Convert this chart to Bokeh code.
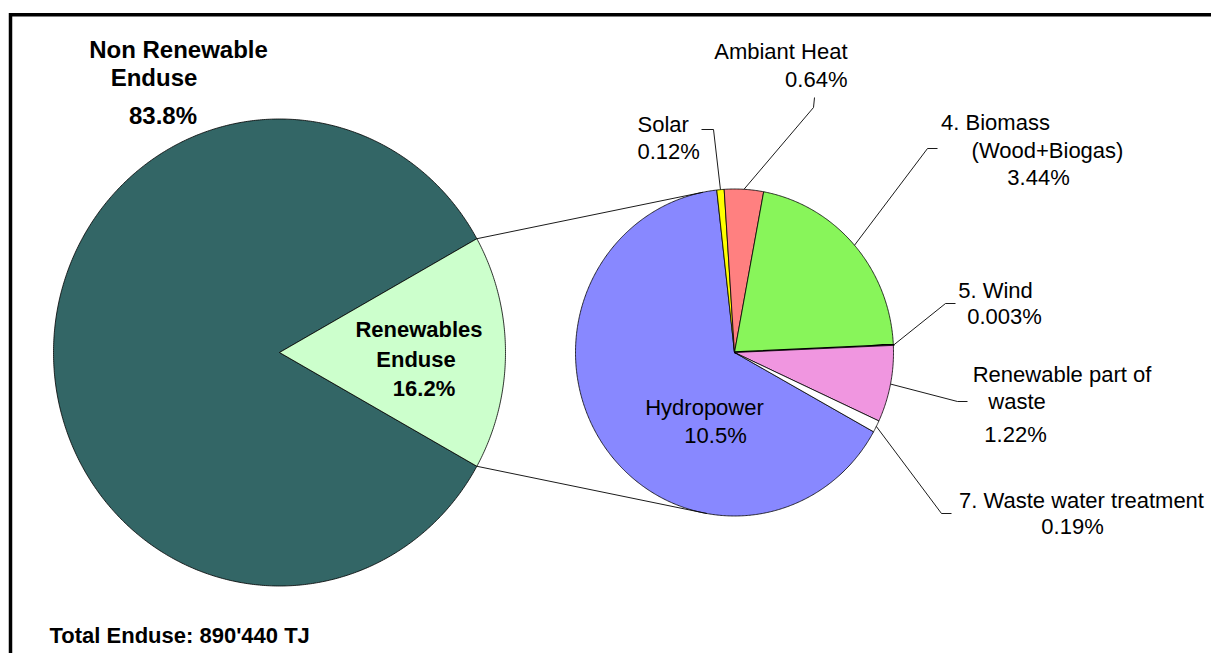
import numpy as np
from bokeh.plotting import figure
from bokeh.models import Range1d, ColumnDataSource
from bokeh.embed import file_html
from bokeh.resources import INLINE
from bokeh.core.properties import value

# ---------------- data ----------------
main_labels = ["Non Renewable", "Renewables"]
main_values = [83.8, 16.2]
main_colors = ["#336666", "#CCFFCC"]

sub_labels = ["Hydropower", "Solar", "Ambiant Heat", "4. Biomass", "5. Wind",
              "Renewable part of waste", "7. Waste water treatment"]
sub_values = [10.5, 0.12, 0.64, 3.44, 0.003, 1.22, 0.19]
sub_colors = ["#8888FF", "#FFFF00", "#FF8080", "#88F55A", "#000000", "#F096E0", "#FFFFFF"]

total_text = "Total Enduse:  890'440 TJ"

# ---------------- layout (screen px) ----------------
W, H = 1211, 653
FONT = "Liberation Sans"
TDY = -8  # text baseline correction

def Y(y):
    return -y

def ell_wedge(cx, cy, rx, ry, a0, a1):
    n = max(3, int(abs(a1 - a0) * 2) + 2)
    t = np.radians(np.linspace(a0, a1, n))
    xs = [cx] + list(cx + rx * np.cos(t)) + [cx]
    ys = [Y(cy)] + list(Y(cy) + ry * np.sin(t)) + [Y(cy)]
    return xs, ys

def ell_pt(cx, cy, rx, ry, a):
    t = np.radians(a)
    return cx + rx * np.cos(t), Y(cy) + ry * np.sin(t)

p = figure(width=W, height=H, x_range=Range1d(0, W), y_range=Range1d(-H, 0),
           output_backend="svg", toolbar_location=None, min_border=0)
p.axis.visible = False
p.grid.visible = False
p.outline_line_color = None
p.background_fill_color = "white"

# ---- big pie ----
BCX, BCY, BRX, BRY = 279, 352, 226, 233.5
tot = sum(main_values)
ren_half = main_values[1] / tot * 180.0
big_angles = [(ren_half, 360 - ren_half), (-ren_half, ren_half)]
bxs, bys = [], []
for (a0, a1) in big_angles:
    xs, ys = ell_wedge(BCX, BCY, BRX, BRY, a0, a1)
    bxs.append(xs); bys.append(ys)
p.patches(bxs, bys, fill_color=main_colors, line_color="black", line_width=0.8)

# ---- small pie (clockwise from start) ----
SCX, SCY, SRX, SRY = 734, 352, 159, 163.5
start = -29.0
stot = sum(sub_values)
sxs, sys_, mids = [], [], []
a = start
for v in sub_values:
    span = v / stot * 360.0
    a_end = a - span
    xs, ys = ell_wedge(SCX, SCY, SRX, SRY, a_end, a)
    sxs.append(xs); sys_.append(ys)
    mids.append((a + a_end) / 2.0)
    a = a_end
lw = [0.8, 0.8, 0.8, 0.8, 2.5, 0.8, 0.8]
p.patches(sxs, sys_, fill_color=sub_colors, line_color="black", line_width=lw)

# ---- connector lines between pies ----
t0 = ell_pt(BCX, BCY, BRX, BRY, ren_half)
t1 = ell_pt(SCX, SCY, SRX, SRY, 101.5)
b0 = ell_pt(BCX, BCY, BRX, BRY, -ren_half)
b1 = ell_pt(SCX, SCY, SRX, SRY, -100)
p.multi_line([[t0[0], t1[0]], [b0[0], b1[0]]], [[t0[1], t1[1]], [b0[1], b1[1]]],
             line_color="black", line_width=0.9)

# ---- leader lines (slice index -> elbow, end) ----
leaders = {1: [(713, 129), (701, 129)],
           2: [(813, 107), (814, 97)],
           3: [(927, 148), (937, 148)],
           4: [(945, 303), (955, 303)],
           5: [(957, 401), (967, 401)],
           6: [(941, 513), (951, 513)]}
lxs, lys = [], []
for i, pts in leaders.items():
    sx, sy = ell_pt(SCX, SCY, SRX, SRY, mids[i])
    lxs.append([sx] + [q[0] for q in pts])
    lys.append([sy] + [Y(q[1]) for q in pts])
p.multi_line(lxs, lys, line_color="black", line_width=0.9)

# ---- frame ----
p.line([10, 10, 1230], [Y(700), Y(14.2), Y(14.2)], line_color="black", line_width=3.5,
       line_join="miter")

# ---- texts ----
def pct(v):
    return f"{v:g}%"

def put(items, size, bold=False, align="center"):
    src = ColumnDataSource(dict(x=[i[0] for i in items], y=[Y(i[1] + TDY) for i in items],
                                t=[i[2] for i in items]))
    p.text(x="x", y="y", text="t", source=src, text_font=value(FONT),
           text_font_size=f"{size}px", text_font_style="bold" if bold else "normal",
           text_align=align, text_baseline="alphabetic", text_color="black")

put([(178, 57, main_labels[0]), (153.5, 85, "Enduse"), (162.5, 122.5, pct(main_values[0]))],
    24, bold=True)
put([(418.5, 337, main_labels[1]), (415.5, 366.5, "Enduse"), (423.5, 396, pct(main_values[1]))],
    22, bold=True)
put([(49, 642.5, total_text)], 22, bold=True, align="left")

put([(704, 415, sub_labels[0]), (715, 442.5, pct(sub_values[0])),
     (995, 130, sub_labels[3]), (1047, 158, "(Wood+Biogas)"), (1038, 185, pct(sub_values[3])),
     (995, 297.7, sub_labels[4]), (1004, 324.3, pct(sub_values[4])),
     (1061.5, 381.7, "Renewable part of"), (1016.5, 409, "waste"), (1015, 441.7, pct(sub_values[5])),
     (1081, 508, sub_labels[6]), (1072, 534.3, pct(sub_values[6]))], 22)
put([(637, 131.5, sub_labels[1]), (637, 159, pct(sub_values[1]))], 22, align="left")
put([(847, 59.3, sub_labels[2]), (847, 86.7, pct(sub_values[2]))], 22, align="right")

open("out.html", "w").write(file_html(p, INLINE))
